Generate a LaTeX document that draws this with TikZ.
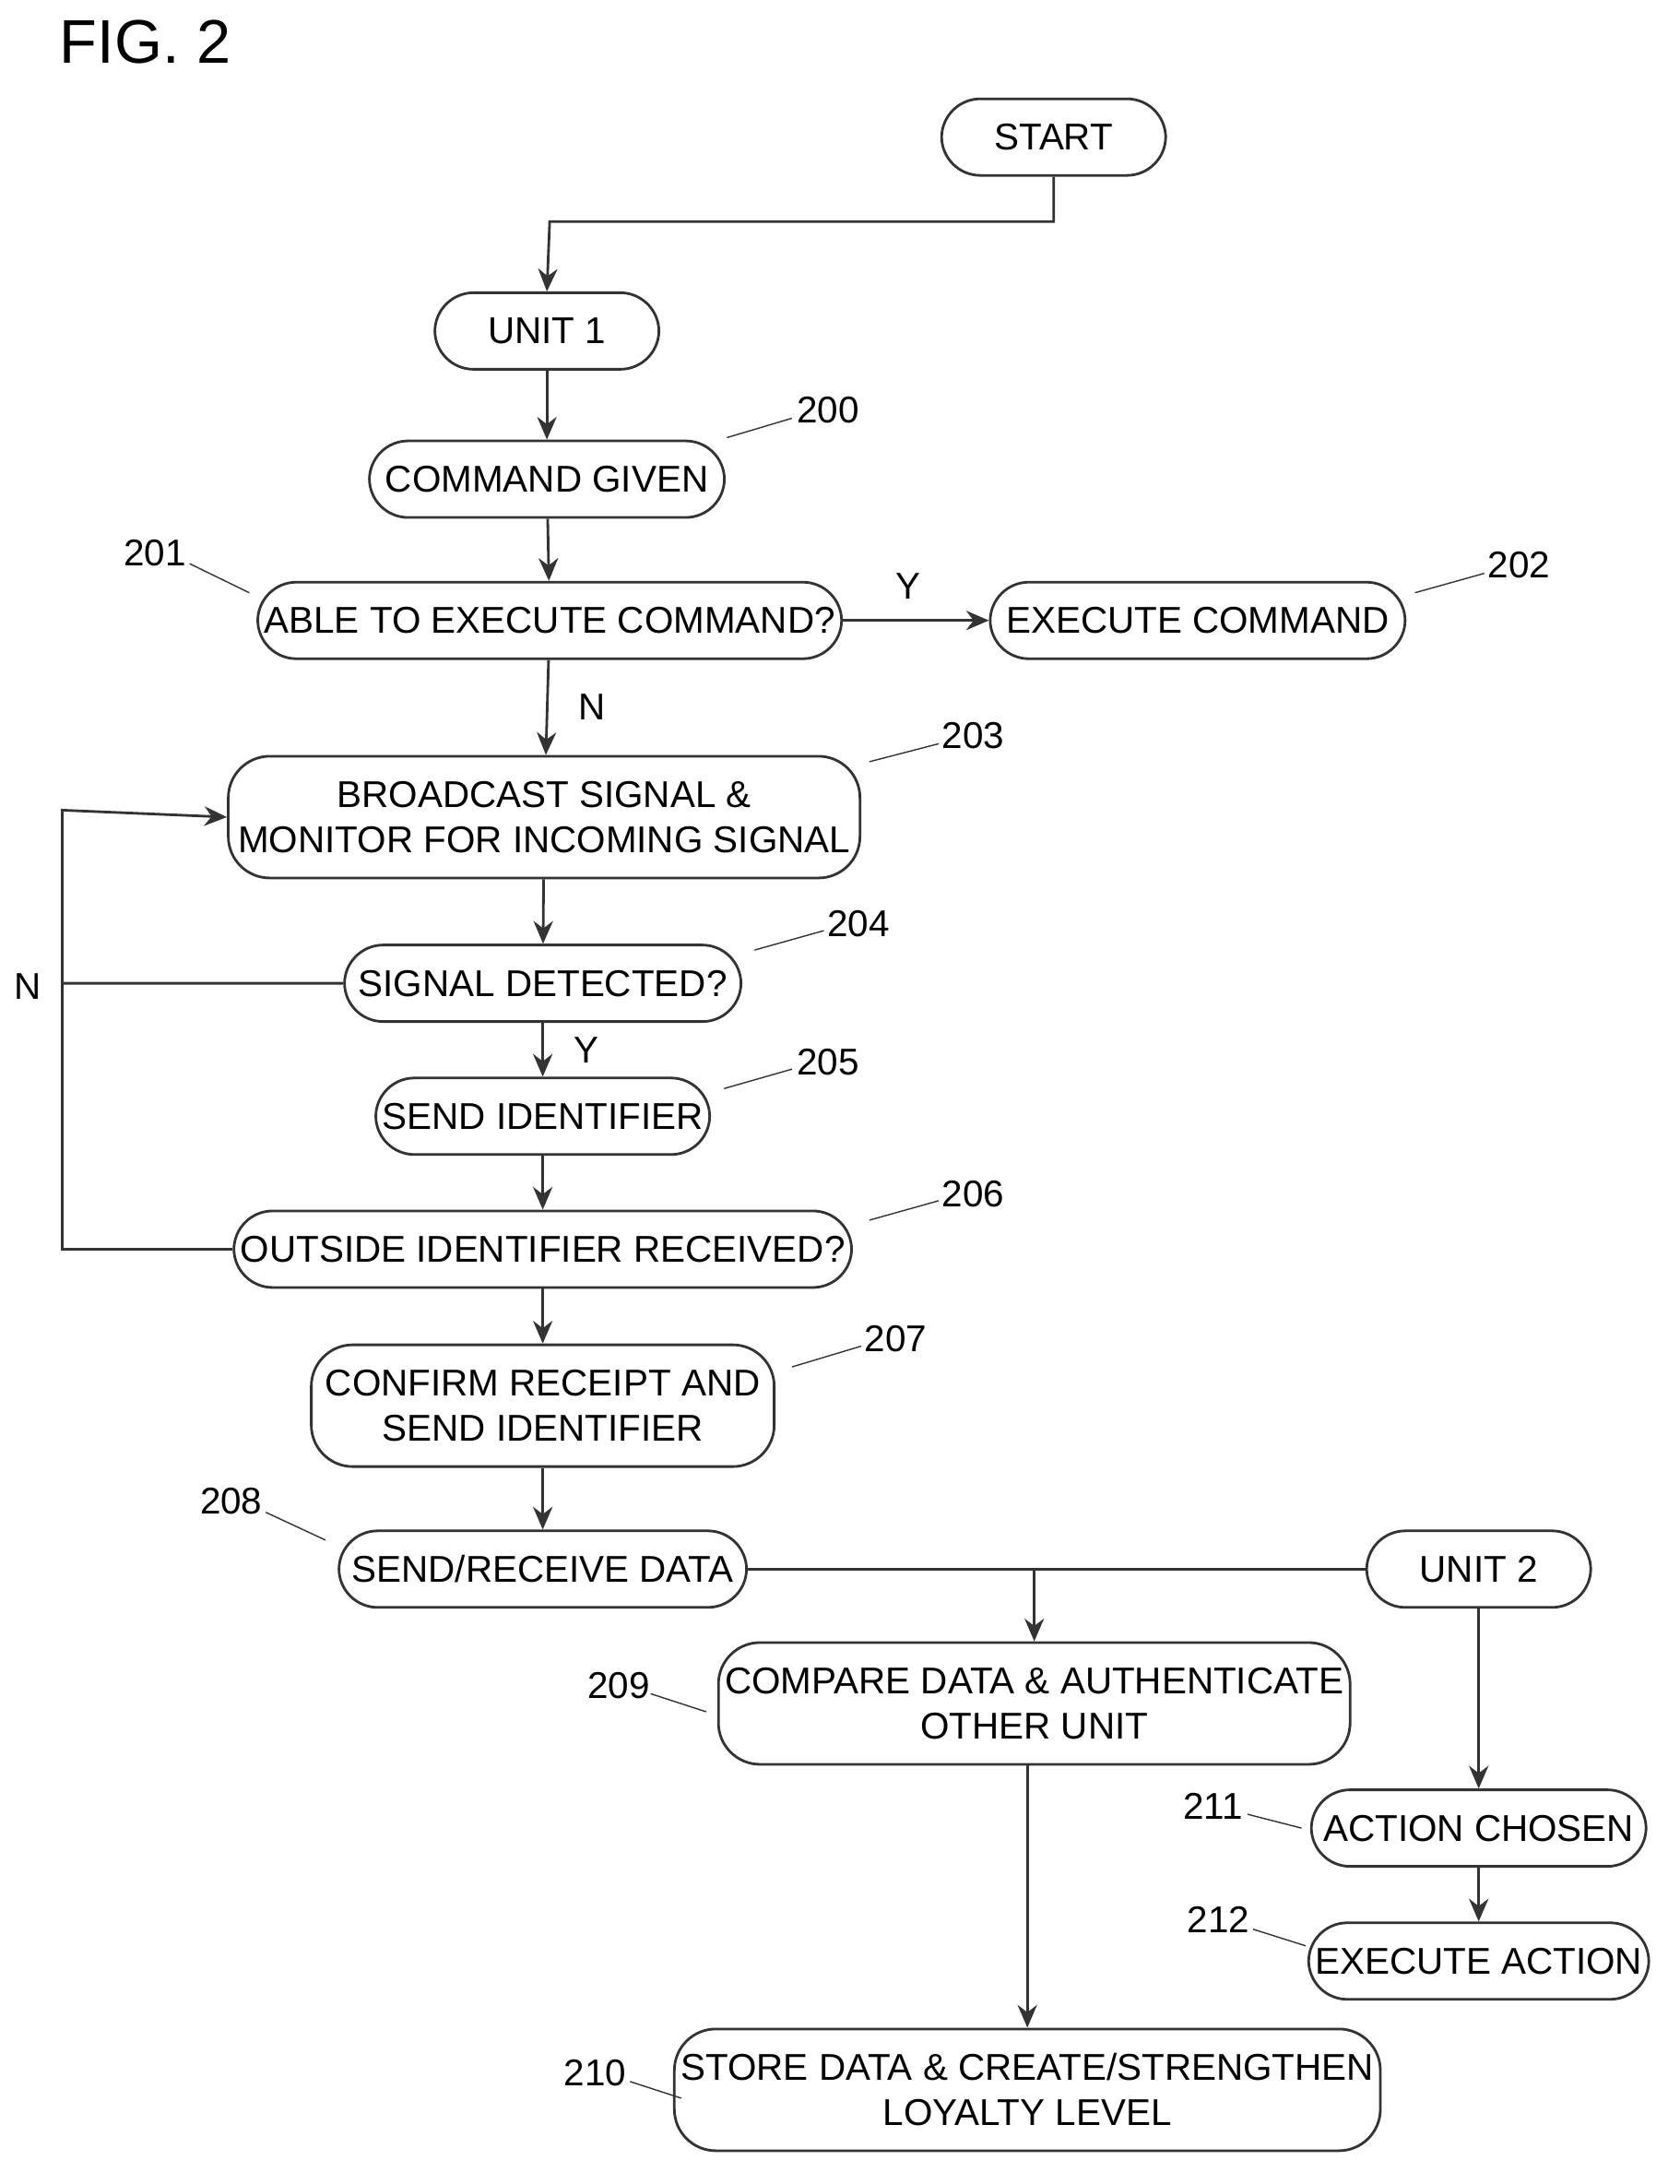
\documentclass[tikz,border=0pt]{standalone}
\usepackage{fontspec}
\setmainfont{Liberation Sans}
\usetikzlibrary{arrows.meta, positioning}

\begin{document}
\begin{tikzpicture}[
    x=0.01502cm, y=-0.01502cm,
    font=\fontsize{11.5pt}{14pt}\selectfont,
    box/.style={draw, thick, draw=black!80, rounded corners=0.42cm, align=center, inner sep=2pt},
    stepbox/.style={box, minimum height=0.83cm},
    tall/.style={box, minimum height=1.32cm, rounded corners=0.45cm},
    arrow/.style={-{Stealth[length=7pt, width=6pt]}, thick, draw=black!80},
    line/.style={thick, draw=black!80},
    ref/.style={thin, draw=black!80}
]
    \useasboundingbox (0,0) rectangle (1213,1577);
    \node[font=\fontsize{19pt}{22pt}\selectfont] (fig) at (105,30) {FIG. 2};

    % Nodes
    \node (start) [stepbox, minimum width=2.43cm] at (761,99) {START};
    \node (unit1) [stepbox, minimum width=2.43cm] at (395,239) {UNIT 1};
    \node (cmd) [stepbox, minimum width=3.85cm] at (395,346) {COMMAND GIVEN};
    \node (able) [stepbox, minimum width=6.3cm] at (397,448) {ABLE TO EXECUTE COMMAND?};
    \node (exec) [stepbox, minimum width=4.5cm] at (865,448) {EXECUTE COMMAND};
    \node (bcast) [tall, minimum width=6.85cm] at (393,590) {BROADCAST SIGNAL \&\\MONITOR FOR INCOMING SIGNAL};
    \node (detect) [stepbox, minimum width=4.3cm] at (392,710) {SIGNAL DETECTED?};
    \node (sendid) [stepbox, minimum width=3.6cm] at (392,806) {SEND IDENTIFIER};
    \node (outside) [stepbox, minimum width=6.67cm] at (392,902) {OUTSIDE IDENTIFIER RECEIVED?};
    \node (confirm) [tall, minimum width=5.02cm] at (392,1015) {CONFIRM RECEIPT AND\\SEND IDENTIFIER};
    \node (sendrx) [stepbox, minimum width=4.42cm] at (392,1133) {SEND/RECEIVE DATA};
    \node (unit2) [stepbox, minimum width=2.43cm] at (1068,1133) {UNIT 2};
    \node (compare) [tall, minimum width=6.85cm] at (747,1230) {COMPARE DATA \& AUTHENTICATE\\OTHER UNIT};
    \node (chosen) [stepbox, minimum width=3.63cm] at (1068,1320) {ACTION CHOSEN};
    \node (action) [stepbox, minimum width=3.63cm] at (1068,1416) {EXECUTE ACTION};
    \node (store) [tall, minimum width=7.3cm] at (742,1509) {STORE DATA \& CREATE/STRENGTHEN\\LOYALTY LEVEL};

    % Edges
    \draw [arrow] (start.south) |- (397,160) -- (unit1.north);
    \draw [arrow] (unit1) -- (cmd);
    \draw [arrow] (cmd) -- (able);
    \draw [arrow] (able) -- node[above=3pt, pos=0.45] {Y} (exec);
    \draw [arrow] (able) -- node[right=6pt] {N} (bcast);
    \draw [arrow] (bcast) -- (detect);
    \draw [arrow] (detect) -- node[right=6pt] {Y} (sendid);
    \draw [arrow] (sendid) -- (outside);
    \draw [arrow] (outside) -- (confirm);
    \draw [arrow] (confirm) -- (sendrx);
    \coordinate (loop) at (45,585);
    \draw [arrow] (detect.west) -| (loop) -- (bcast.west);
    \draw [line] (outside.west) -| (45,710);
    \node (nlab) at (20,712) {N};
    \draw [line] (sendrx.east) -- (unit2.west);
    \draw [arrow] (747,1133) -- (compare.north);
    \draw [arrow] (unit2) -- (chosen);
    \draw [arrow] (chosen) -- (action);
    \draw [arrow] (compare.south -| store.north) -- (store.north);

    % Reference numerals
    \foreach \num/\lx/\ly/\ax/\ay/\bx/\by in {
        200/598/296/525/316/572/302, 201/112/399/137/407/180/428,
        202/1097/408/1022/428/1072/414, 203/703/531/628/550/678/537,
        204/620/667/545/686/595/672, 205/598/767/523/786/572/772,
        206/703/862/628/881/678/867, 207/647/967/572/987/622/972,
        208/167/1084/192/1092/235/1112, 209/447/1217/470/1223/510/1236,
        210/430/1497/455/1503/492/1515, 211/876/1304/901/1310/940/1320,
        212/880/1386/905/1393/943/1405}
    {
        \node (r\num) at (\lx,\ly) {\num};
        \draw [ref] (\ax,\ay) -- (\bx,\by);
    }
\end{tikzpicture}
\end{document}
